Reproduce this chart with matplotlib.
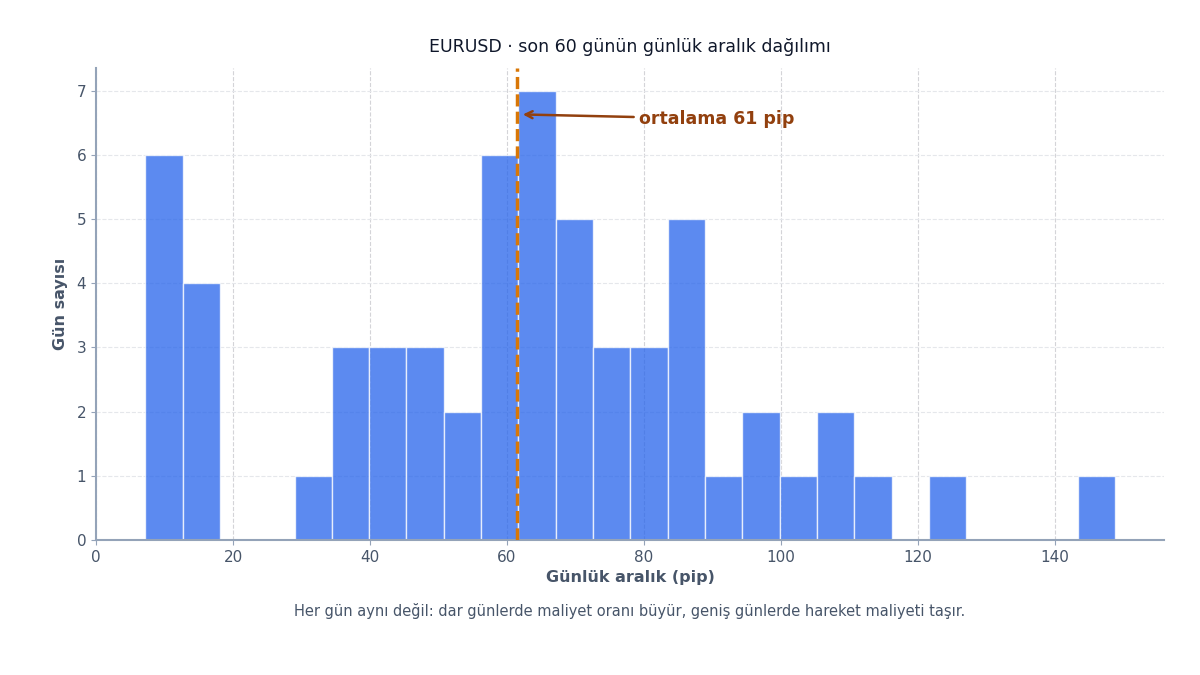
import matplotlib
matplotlib.use("Agg")
import matplotlib.pyplot as plt
import numpy as np

title = "EURUSD · son 60 günün günlük aralık dağılımı"
xlabel = "Günlük aralık (pip)"
ylabel = "Gün sayısı"
caption = "Her gün aynı değil: dar günlerde maliyet oranı büyür, geniş günlerde hareket maliyeti taşır."
mean_label = "ortalama 61 pip"

bin_start = 7.2
bin_end = 148.8
counts = [6, 4, 0, 0, 1, 3, 3, 3, 2, 6, 7, 5, 3, 3, 5, 1, 2, 1, 2, 1, 0, 1, 0, 0, 0, 1]
mean_value = 61.5

edges = np.linspace(bin_start, bin_end, len(counts) + 1)

fig = plt.figure(figsize=(12, 6.75), dpi=100)
ax = fig.add_axes([0.08, 0.2, 0.89, 0.699])

ax.bar(edges[:-1], counts, width=np.diff(edges), align="edge",
       color="#2563eb", alpha=0.75, edgecolor="white", linewidth=1.0, zorder=2)

ax.axvline(mean_value, color="#d97706", linestyle=(0, (3.5, 1.5)), linewidth=2.5, zorder=3)
ax.annotate(mean_label, xy=(mean_value + 0.4, 6.63), xytext=(79.3, 6.56),
            color="#92400e", fontsize=12.5, fontweight="bold", va="center", ha="left",
            arrowprops=dict(arrowstyle="->", color="#92400e", lw=1.8))

ax.set_xlim(0, 155.9)
ax.set_ylim(0, 7.35)

ax.grid(axis="x", color="#d4d4d8", linestyle="--", linewidth=0.8, zorder=0)
ax.grid(axis="y", color="#e5e7eb", linestyle="--", linewidth=0.8, zorder=0)
ax.set_axisbelow(True)

for s in ["top", "right"]:
    ax.spines[s].set_visible(False)
for s in ["left", "bottom"]:
    ax.spines[s].set_color("#94a3b8")
    ax.spines[s].set_linewidth(1.5)

ax.tick_params(colors="#94a3b8", labelcolor="#475569", labelsize=11)

ax.set_xlabel(xlabel, fontsize=11.5, fontweight="bold", color="#475569", labelpad=4)
ax.set_ylabel(ylabel, fontsize=11.5, fontweight="bold", color="#475569", labelpad=6)
ax.set_title(title, fontsize=12.5, color="#0f172a", pad=12)

fig.text(0.525, 0.095, caption, ha="center", va="center", fontsize=10.5, color="#475569")

fig.savefig("out.png", dpi=100)
